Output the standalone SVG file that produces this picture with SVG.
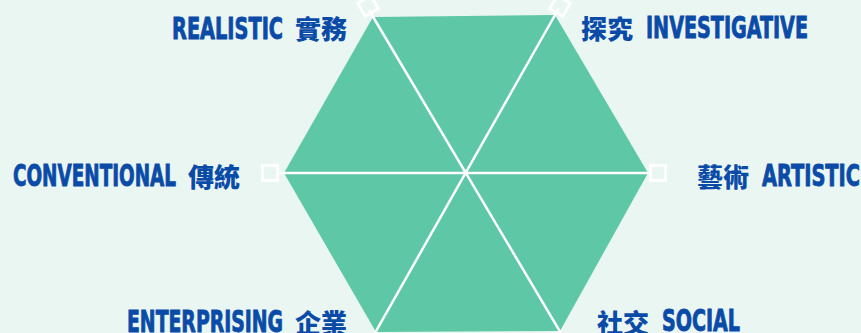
<svg xmlns="http://www.w3.org/2000/svg" width="861" height="333" viewBox="0 0 861 333">
<style>
.lat{font-family:"DejaVu Sans Condensed","DejaVu Sans",sans-serif;font-weight:bold;font-size:31px;fill:#0B4BA8;stroke:#0B4BA8;stroke-width:0.9}
.cjk{font-family:"Noto Sans CJK TC","Noto Sans CJK SC",sans-serif;font-weight:900;font-size:26px;fill:#0B4BA8}
.sq{fill:none;stroke:#ffffff;stroke-width:3}
.sp{stroke:#ffffff;stroke-width:2.5;fill:none}
</style>
<rect x="0" y="0" width="861" height="333" fill="#EAF6F1"/>
<g id="hexagon">
<polygon points="373,17 555,15 648,173 560,331 376,332 284,173" fill="#5EC7A5"/>
</g>
<g id="connectors">
<line class="sp" x1="649" y1="173" x2="279" y2="173"/>
<line class="sp" x1="369" y1="10" x2="565" y2="340"/>
<line class="sp" x1="559" y1="8" x2="371" y2="340"/>
</g>
<g id="realistic">
<rect class="sq" x="360.5" y="-1.5" width="15" height="15" transform="rotate(-30 368 6)"/>
<text class="lat" x="172" y="39" textLength="111" lengthAdjust="spacingAndGlyphs">REALISTIC</text>
<text class="cjk" x="295" y="39">實務</text>
</g>
<g id="investigative">
<rect class="sq" x="552.5" y="-1.5" width="15" height="15" transform="rotate(30 560 6)"/>
<text class="cjk" x="581" y="39">探究</text>
<text class="lat" x="646" y="38" textLength="162" lengthAdjust="spacingAndGlyphs">INVESTIGATIVE</text>
</g>
<g id="conventional">
<rect class="sq" x="262.5" y="165.5" width="15" height="15"/>
<text class="lat" x="13" y="186" textLength="163" lengthAdjust="spacingAndGlyphs">CONVENTIONAL</text>
<text class="cjk" x="188" y="187">傳統</text>
</g>
<g id="artistic">
<rect class="sq" x="650.5" y="165.5" width="15" height="15"/>
<text class="cjk" x="697" y="187">藝術</text>
<text class="lat" x="762" y="186" textLength="98" lengthAdjust="spacingAndGlyphs">ARTISTIC</text>
</g>
<g id="enterprising">
<text class="lat" x="127" y="332" textLength="156" lengthAdjust="spacingAndGlyphs">ENTERPRISING</text>
<text class="cjk" x="295" y="333">企業</text>
</g>
<g id="social">
<text class="cjk" x="597" y="333">社交</text>
<text class="lat" x="662" y="331" textLength="78" lengthAdjust="spacingAndGlyphs">SOCIAL</text>
</g>
</svg>
